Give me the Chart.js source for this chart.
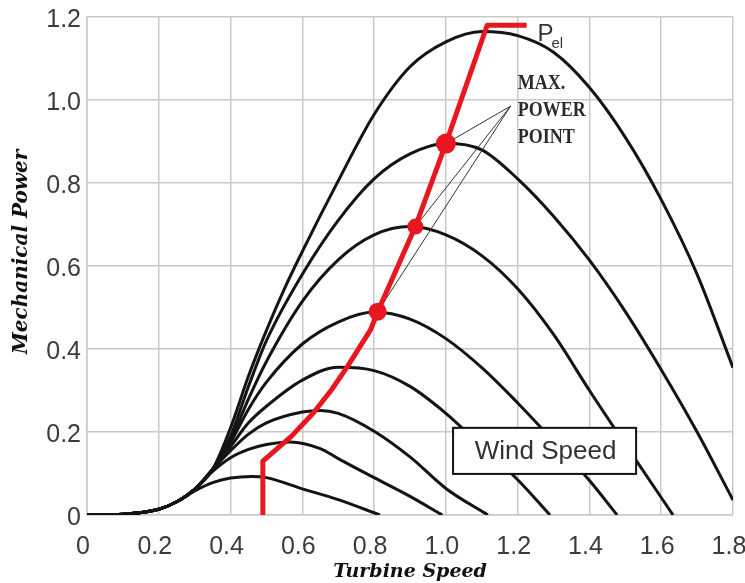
<!DOCTYPE html>
<html>
<head>
<meta charset="utf-8">
<title>Mechanical power vs turbine speed</title>
<script src="https://cdn.jsdelivr.net/npm/chart.js@4.4.1/dist/chart.umd.min.js"></script>
<style>
  html, body { margin: 0; padding: 0; background: #fff; }
  #wrap { width: 745px; height: 583px; }
</style>
</head>
<body>
<div id="wrap"><canvas id="power-chart" width="745" height="583"></canvas></div>
<script>
// Turbine speed / mechanical power pairs, one curve per wind speed (lowest first)
const speedA = [0, 0.1, 0.2, 0.25, 0.3, 0.35, 0.4, 0.46, 0.5, 0.6, 0.7, 0.816];
const powerA = [0, 0.002, 0.014, 0.032, 0.058, 0.078, 0.089, 0.093, 0.09, 0.063, 0.037, 0];
const speedB = [0, 0.1, 0.2, 0.25, 0.3, 0.35, 0.4, 0.45, 0.5, 0.566, 0.65, 0.7, 0.8, 0.9, 0.99];
const powerB = [0, 0.002, 0.014, 0.032, 0.062, 0.105, 0.138, 0.158, 0.17, 0.176, 0.16, 0.136, 0.09, 0.045, 0];
const speedC = [0, 0.1, 0.2, 0.25, 0.3, 0.35, 0.4, 0.45, 0.5, 0.6, 0.65, 0.7, 0.8, 0.9, 1.0, 1.117];
const powerC = [0, 0.002, 0.014, 0.032, 0.062, 0.11, 0.155, 0.195, 0.222, 0.248, 0.252, 0.245, 0.202, 0.14, 0.064, 0];
const speedD = [0, 0.1, 0.2, 0.25, 0.3, 0.35, 0.4, 0.45, 0.5, 0.6, 0.7, 0.8, 0.9, 1.0, 1.1, 1.2, 1.29];
const powerD = [0, 0.002, 0.014, 0.032, 0.062, 0.11, 0.165, 0.222, 0.262, 0.325, 0.356, 0.348, 0.31, 0.245, 0.165, 0.085, 0];
const speedE = [0, 0.1, 0.2, 0.25, 0.3, 0.35, 0.4, 0.45, 0.5, 0.6, 0.7, 0.8, 0.9, 1.0, 1.1, 1.2, 1.3, 1.4, 1.477];
const powerE = [0, 0.002, 0.014, 0.032, 0.062, 0.11, 0.175, 0.255, 0.32, 0.412, 0.465, 0.489, 0.472, 0.425, 0.355, 0.27, 0.178, 0.083, 0];
const speedF = [0, 0.1, 0.2, 0.25, 0.3, 0.35, 0.4, 0.45, 0.5, 0.6, 0.7, 0.8, 0.9, 1.0, 1.1, 1.2, 1.3, 1.4, 1.5, 1.633];
const powerF = [0, 0.002, 0.014, 0.032, 0.062, 0.11, 0.18, 0.28, 0.37, 0.515, 0.615, 0.675, 0.695, 0.675, 0.625, 0.545, 0.435, 0.3, 0.17, 0];
const speedG = [0, 0.1, 0.2, 0.25, 0.3, 0.35, 0.4, 0.45, 0.5, 0.6, 0.7, 0.8, 0.9, 1.0, 1.1, 1.2, 1.3, 1.4, 1.5, 1.6, 1.7, 1.8];
const powerG = [0, 0.002, 0.014, 0.032, 0.062, 0.11, 0.19, 0.31, 0.42, 0.58, 0.71, 0.81, 0.87, 0.896, 0.88, 0.81, 0.72, 0.614, 0.49, 0.35, 0.2, 0.036];
const speedH = [0, 0.1, 0.2, 0.25, 0.3, 0.35, 0.4, 0.45, 0.5, 0.55, 0.6, 0.7, 0.8, 0.9, 1.0, 1.1, 1.2, 1.3, 1.4, 1.5, 1.6, 1.7, 1.8];
const powerH = [0, 0.002, 0.014, 0.032, 0.062, 0.11, 0.21, 0.335, 0.445, 0.545, 0.635, 0.805, 0.965, 1.08, 1.14, 1.165, 1.155, 1.115, 1.03, 0.91, 0.76, 0.58, 0.355];

// Electrical power (Pel) trajectory and the max power points on it
const pelSpeed = [0.49, 0.49, 0.53, 0.57, 0.63, 0.68, 0.725, 0.79, 0.81, 0.915, 1.0, 1.115, 1.225];
const pelPower = [0, 0.13, 0.16, 0.19, 0.245, 0.3, 0.357, 0.446, 0.49, 0.695, 0.895, 1.18, 1.18];
const mppSpeed = [1.0, 0.915, 0.81];
const mppPower = [0.895, 0.695, 0.49];
const mppLabelAt = [1.18, 0.985];

const xTickLabels = ['0', '0.2', '0.4', '0.6', '0.8', '1.0', '1.2', '1.4', '1.6', '1.8'];
const yTickLabels = ['0', '0.2', '0.4', '0.6', '0.8', '1.0', '1.2'];

function toPoints(xs, ys) {
    return xs.map((x, i) => ({ x: x, y: ys[i] }));
}

// labels in the original sit a few px left of their grid lines
function xLabelShift(c) {
    if (typeof c.index !== 'number') return -4;
    return c.index === 9 ? -8 : -Math.min(5, 1 + Math.round(c.index / 2));
}

const curves = [
    [speedA, powerA], [speedB, powerB], [speedC, powerC], [speedD, powerD],
    [speedE, powerE], [speedF, powerF], [speedG, powerG], [speedH, powerH]
];

const datasets = [];

// red dots first so they end up on top
datasets.push({
    data: toPoints(mppSpeed, mppPower),
    showLine: false,
    pointRadius: [10, 8, 9],
    pointBackgroundColor: '#e8161e',
    pointBorderWidth: 0
});
datasets.push({
    data: toPoints(pelSpeed, pelPower),
    borderColor: '#e8161e',
    borderWidth: 5,
    pointRadius: 0,
    tension: 0,
    borderJoinStyle: 'round'
});
// thin pointer lines to the "MAX. POWER POINT" note
mppSpeed.forEach((s, i) => {
    datasets.push({
        data: [{ x: s, y: mppPower[i] }, { x: mppLabelAt[0], y: mppLabelAt[1] }],
        borderColor: '#333',
        borderWidth: 1,
        pointRadius: 0,
        tension: 0
    });
});
curves.forEach(c => {
    datasets.push({
        data: toPoints(c[0], c[1]),
        borderColor: '#141414',
        borderWidth: 3,
        pointRadius: 0,
        cubicInterpolationMode: 'monotone'
    });
});

const notesPlugin = {
    id: 'figureNotes',
    afterDatasetsDraw(chart) {
        const { ctx } = chart;
        const xs = chart.scales.x;
        const ys = chart.scales.y;
        ctx.save();

        // P_el label
        ctx.fillStyle = '#333';
        ctx.textBaseline = 'alphabetic';
        ctx.textAlign = 'left';
        ctx.font = '24px "Liberation Sans", Arial, sans-serif';
        const px = xs.getPixelForValue(1.255);
        const py = ys.getPixelForValue(1.2) + 24;
        ctx.fillText('P', px, py);
        ctx.font = '15px "Liberation Sans", Arial, sans-serif';
        ctx.fillText('el', px + 14, py + 7);

        // MAX. POWER POINT
        ctx.fillStyle = '#2a2a2a';
        ctx.font = 'bold 18px "Liberation Serif", "Times New Roman", serif';
        const mx = xs.getPixelForValue(1.2);
        ['MAX.', 'POWER', 'POINT'].forEach((t, i) => {
            const ty = ys.getPixelForValue(1.041 - i * 0.066);
            ctx.save();
            ctx.translate(mx, ty);
            ctx.scale(1, 1.2);
            ctx.textBaseline = 'middle';
            ctx.fillText(t, 0, 0);
            ctx.restore();
        });

        // Wind Speed box
        const bx0 = xs.getPixelForValue(1.02);
        const bx1 = xs.getPixelForValue(1.53);
        const by0 = ys.getPixelForValue(0.21);
        const by1 = ys.getPixelForValue(0.099);
        ctx.fillStyle = '#fff';
        ctx.fillRect(bx0, by0, bx1 - bx0, by1 - by0);
        ctx.strokeStyle = '#111';
        ctx.lineWidth = 2;
        ctx.strokeRect(bx0, by0, bx1 - bx0, by1 - by0);
        ctx.fillStyle = '#333';
        ctx.font = '26px "Liberation Sans", Arial, sans-serif';
        ctx.textAlign = 'center';
        ctx.textBaseline = 'middle';
        ctx.fillText('Wind Speed', (bx0 + bx1) / 2 + 1, (by0 + by1) / 2 + 1);

        // vertical axis title, placed by hand a little above the plot centre
        ctx.save();
        ctx.translate(22, (chart.chartArea.top + chart.chartArea.bottom) / 2 - 14);
        ctx.rotate(-Math.PI / 2);
        ctx.fillStyle = '#111';
        ctx.font = 'italic bold 20px "DejaVu Serif", serif';
        ctx.textAlign = 'center';
        ctx.textBaseline = 'middle';
        ctx.fillText('Mechanical Power', 0, 0);
        ctx.restore();

        ctx.restore();
    }
};

const powerChart = new Chart(document.getElementById('power-chart').getContext('2d'), {
    type: 'line',
    data: { datasets: datasets },
    options: {
        responsive: false,
        animation: false,
        layout: { padding: { left: 0, top: 17, right: 12, bottom: 0 } },
        plugins: {
            legend: { display: false },
            tooltip: { enabled: false }
        },
        scales: {
            x: {
                type: 'linear',
                min: 0,
                max: 1.8,
                afterFit: scale => {
                    scale.height = 68;
                    scale.paddingLeft = 0;
                    scale.paddingRight = 0;
                },
                ticks: {
                    stepSize: 0.2,
                    padding: 17,
                    labelOffset: xLabelShift,
                    color: '#3c3c3c',
                    font: { family: '"Liberation Sans", Arial, sans-serif', size: 25 },
                    callback: (v, i) => xTickLabels[i]
                },
                grid: { color: '#c9c9c9', lineWidth: 1.5, drawTicks: false },
                border: { color: '#c9c9c9', width: 1.5 },
                title: {
                    display: true,
                    text: 'Turbine Speed',
                    color: '#111',
                    padding: { top: 0, bottom: 0 },
                    font: { family: '"DejaVu Serif", serif', size: 19, style: 'italic', weight: 'bold' }
                }
            },
            y: {
                min: 0,
                max: 1.2,
                afterFit: scale => {
                    scale.width = 87;
                    scale.paddingTop = 0;
                    scale.paddingBottom = 0;
                },
                ticks: {
                    stepSize: 0.2,
                    padding: 6,
                    labelOffset: c => (c.index === 6 ? 6 : 3),
                    color: '#3c3c3c',
                    font: { family: '"Liberation Sans", Arial, sans-serif', size: 25 },
                    callback: (v, i) => yTickLabels[i]
                },
                grid: { color: '#c9c9c9', lineWidth: 1.5, drawTicks: false },
                border: { color: '#c9c9c9', width: 1.5 }
            }
        }
    },
    plugins: [notesPlugin]
});
</script>
</body>
</html>
